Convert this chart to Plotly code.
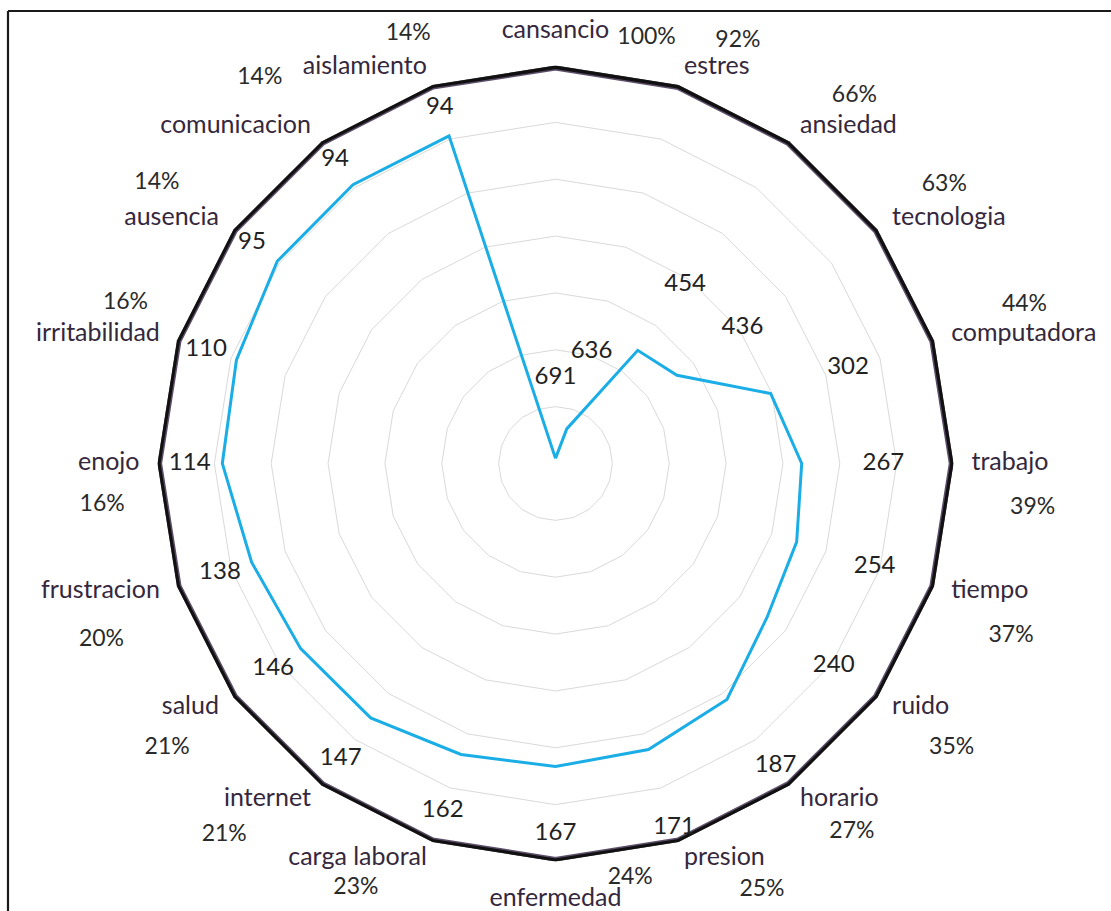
import numpy as np
import plotly.graph_objects as go

# ---- data -------------------------------------------------------------
categories = [
    "cansancio", "estres", "ansiedad", "tecnologia", "computadora",
    "trabajo", "tiempo", "ruido", "horario", "presion", "enfermedad",
    "carga laboral", "internet", "salud", "frustracion", "enojo",
    "irritabilidad", "ausencia", "comunicacion", "aislamiento",
]
counts = [691, 636, 454, 436, 302, 267, 254, 240, 187, 171,
          167, 162, 147, 146, 138, 114, 110, 95, 94, 94]
percent = [100, 92, 66, 63, 44, 39, 37, 35, 27, 25,
           24, 23, 21, 21, 20, 16, 16, 14, 14, 14]

R_MAX = 700        # radial axis runs from R_MAX at the centre to 0 at the rim
GRID_STEP = 100

# ---- geometry ---------------------------------------------------------
W, H = 1111, 911
CX, CY = 555.5, 463.5     # centre of the radar, px
RAD = 398                 # radius of the value-0 ring, px
dom_x = [(CX - RAD) / W, (CX + RAD) / W]
dom_y = [(H - CY - RAD) / H, (H - CY + RAD) / H]
PX = R_MAX / RAD          # radial data units per pixel

n = len(categories)
angles = np.arange(n) * 360.0 / n

FONT = "Lato"
FS_COUNT, FS_CAT, FS_PCT = 24, 25, 23
TEXT_DY = 3               # nudges centred text down to sit on its anchor


def px_out(gap_px):
    """radial value sitting gap_px pixels outside the rim"""
    return -gap_px * PX


# category labels: fixed gap beyond the rim, anchored on the side facing out
cat_r, cat_pos = [], []
for a in angles:
    if a == 0:
        gap, pos = 21, "top center"
    elif a == 180:
        gap, pos = 26, "bottom center"
    elif a < 180:
        gap, pos = 18, "middle right"
    else:
        gap, pos = 18, "middle left"
    cat_r.append(px_out(gap))
    cat_pos.append(pos)

# count labels sit a little outward from their point along the spoke
count_gap = np.interp(angles, [0, 162, 180, 216, 234, 360],
                      [80, 83, 67, 51, 34, 29])
count_label_r = [c - g * PX for c, g in zip(counts, count_gap)]

# percentage labels: (degrees clockwise from top, px from centre)
pct_label_pos = [
    (12.0, 438), (23.2, 463), (38.9, 476), (54.1, 480), (71.0, 496),
    (95.0, 479), (110.4, 486), (125.4, 486), (141.0, 471), (154.0, 471),
    (169.7, 418), (205.3, 467), (221.9, 496), (234.0, 480), (249.1, 486),
    (265.1, 455), (290.8, 460), (305.4, 489), (322.7, 488), (341.2, 457),
]
pct_ang = np.radians([a for a, _ in pct_label_pos])
pct_rho = np.array([rho for _, rho in pct_label_pos])
pct_x = CX + pct_rho * np.sin(pct_ang)
pct_y = CY - pct_rho * np.cos(pct_ang) + TEXT_DY

closed_theta = categories + categories[:1]

fig = go.Figure()

# percentage series (values 0-1 hug the rim on this reversed axis)
pct_frac = [p / 100 for p in percent]
fig.add_trace(go.Scatterpolar(
    r=pct_frac + pct_frac[:1], theta=closed_theta, mode="lines",
    line=dict(color="#5d4f6a", width=9), cliponaxis=False,
    hoverinfo="skip", showlegend=False))
fig.add_trace(go.Scatterpolar(
    r=pct_frac + pct_frac[:1], theta=closed_theta, mode="lines",
    line=dict(color="#111111", width=6), cliponaxis=False,
    hoverinfo="skip", showlegend=False))

# count series
fig.add_trace(go.Scatterpolar(
    r=counts + counts[:1], theta=closed_theta, mode="lines",
    line=dict(color="#1aade6", width=3), cliponaxis=False,
    hoverinfo="skip", showlegend=False))

# count labels
fig.add_trace(go.Scatterpolar(
    r=count_label_r, theta=categories, mode="text",
    text=[str(c) for c in counts], textposition="middle center",
    textfont=dict(family=FONT, size=FS_COUNT, color="#222222"),
    cliponaxis=False, hoverinfo="skip", showlegend=False))

# category labels
fig.add_trace(go.Scatterpolar(
    r=cat_r, theta=categories, mode="text",
    text=categories, textposition=cat_pos,
    textfont=dict(family=FONT, size=FS_CAT, color="#35283c"),
    cliponaxis=False, hoverinfo="skip", showlegend=False))

# percentage labels, laid out on a pixel-space overlay
fig.add_trace(go.Scatter(
    x=pct_x, y=pct_y, mode="text",
    text=[f"{p}%" for p in percent], textposition="middle center",
    textfont=dict(family=FONT, size=FS_PCT, color="#2a2a2a"),
    cliponaxis=False, hoverinfo="skip", showlegend=False))

fig.update_layout(
    width=W, height=H,
    margin=dict(l=0, r=0, t=0, b=0),
    paper_bgcolor="white",
    plot_bgcolor="white",
    showlegend=False,
    xaxis=dict(range=[0, W], domain=[0, 1], visible=False, fixedrange=True),
    yaxis=dict(range=[H, 0], domain=[0, 1], visible=False, fixedrange=True),
    polar=dict(
        domain=dict(x=dom_x, y=dom_y),
        bgcolor="white",
        gridshape="linear",
        radialaxis=dict(
            range=[R_MAX, 0],
            tickmode="array",
            tickvals=list(range(0, R_MAX + 1, GRID_STEP)),
            showticklabels=False, ticks="", showline=False,
            gridcolor="#d9d9d9", gridwidth=1.2,
        ),
        angularaxis=dict(
            type="category", categoryarray=categories,
            rotation=90, direction="clockwise",
            showgrid=False, showticklabels=False, ticks="", showline=False,
        ),
    ),
    shapes=[
        dict(type="line", xref="paper", yref="paper",
             x0=8 / W, x1=8 / W, y0=-0.01, y1=1 - 11 / H,
             line=dict(color="#1a1a1a", width=2.2)),
        dict(type="line", xref="paper", yref="paper",
             x0=8 / W, x1=1.01, y0=1 - 11 / H, y1=1 - 11 / H,
             line=dict(color="#1a1a1a", width=2.2)),
    ],
)

fig.write_html("out.html")
